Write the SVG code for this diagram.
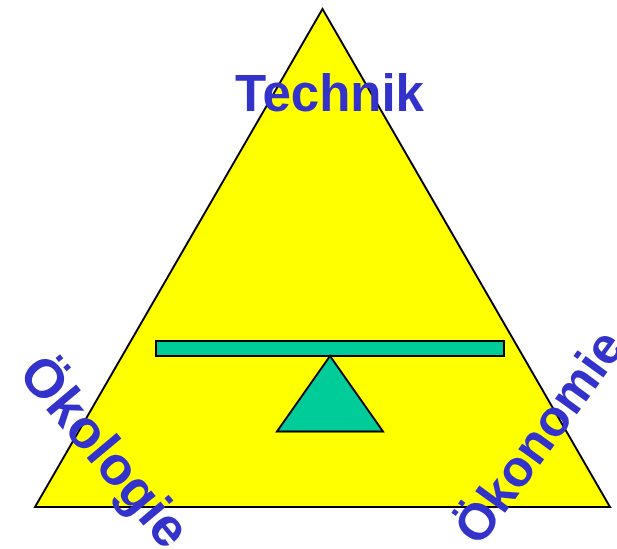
<svg xmlns="http://www.w3.org/2000/svg" width="617" height="549" viewBox="0 0 617 549">
<style>
.lbl{font-family:"Liberation Sans",Arial,sans-serif;font-weight:bold;font-size:51px;fill:#3333CC;text-anchor:middle}
.rot{font-size:54px}
.shape{stroke:#000;stroke-width:2;stroke-linejoin:miter}
</style>
<rect width="617" height="549" fill="#fff"/>
<g id="outer-triangle"><polygon class="shape" points="322.5,9 35,507 610,507" fill="#FFFF00"/></g>
<g id="beam"><rect class="shape" x="156" y="341" width="348" height="15" fill="#00CC99"/></g>
<g id="fulcrum"><polygon class="shape" points="330,356 277,431.5 383,431.5" fill="#00CC99"/></g>
<g id="connectors"></g>
<g id="technik"><text class="lbl" x="329.5" y="111">Technik</text></g>
<g id="oekologie"><text class="lbl rot" transform="translate(91,463) rotate(50)">Ökologie</text></g>
<g id="oekonomie"><text class="lbl" transform="translate(553,447) rotate(-54)">Ökonomie</text></g>
</svg>
